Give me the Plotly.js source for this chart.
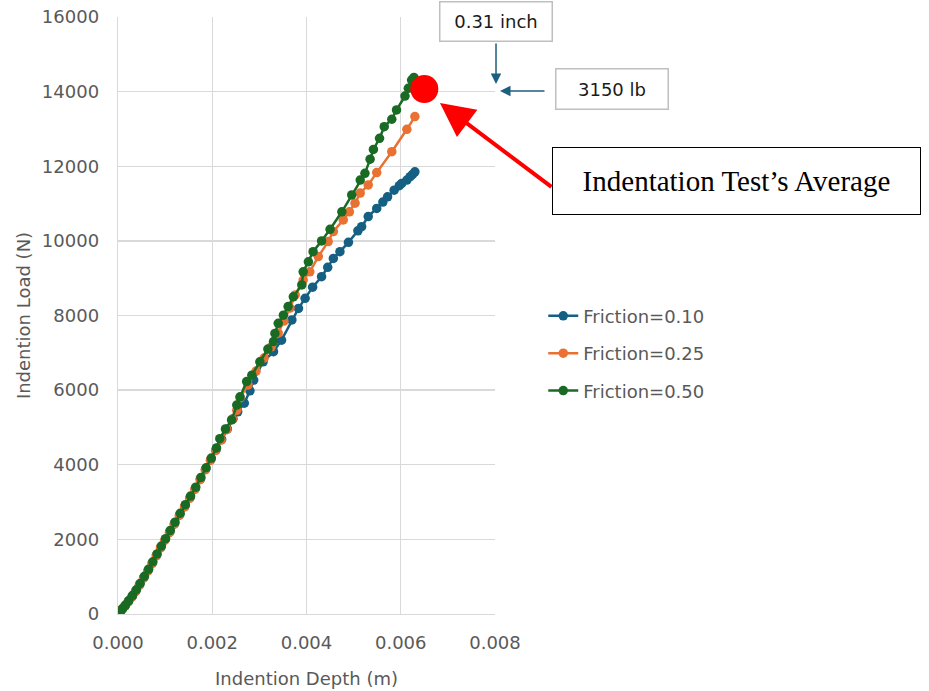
<!DOCTYPE html>
<html>
<head>
<meta charset="utf-8">
<script src="https://cdn.plot.ly/plotly-3.0.1.min.js"></script>
<style>html,body{margin:0;padding:0;background:#fff;}#chart{width:929px;height:691px;}</style>
</head>
<body>
<div id="chart"></div>
<script>
// Friction = 0.10
const blueDepth = [0.00000,0.00004,0.00009,0.00015,0.00022,0.00030,0.00038,0.00046,0.00055,0.00064,0.00073,0.00082,0.00091,0.00100,0.00110,0.00120,0.00131,0.00142,0.00153,0.00164,0.00175,0.00186,0.00197,0.00208,0.00220,0.00232,0.00244,0.00254,0.00268,0.00280,0.00288,0.00308,0.00330,0.00347,0.00369,0.00383,0.00397,0.00413,0.00432,0.00445,0.00457,0.00471,0.00489,0.00509,0.00517,0.00531,0.00549,0.00562,0.00572,0.00586,0.00597,0.00602,0.00613,0.00620,0.00625,0.00630];
const blueLoad  = [0,50,130,220,330,470,620,790,980,1170,1370,1580,1790,1990,2200,2420,2660,2890,3120,3360,3620,3880,4140,4400,4680,4960,5230,5420,5650,5980,6270,6760,7030,7340,7880,8190,8460,8760,9040,9290,9530,9710,9960,10270,10380,10650,10870,11040,11180,11360,11480,11540,11630,11720,11780,11850];
// Friction = 0.25
const orangeDepth = [0.00000,0.00003,0.00008,0.00014,0.00021,0.00029,0.00037,0.00045,0.00054,0.00063,0.00072,0.00081,0.00090,0.00099,0.00109,0.00119,0.00130,0.00141,0.00152,0.00163,0.00174,0.00185,0.00196,0.00207,0.00219,0.00231,0.00243,0.00252,0.00259,0.00276,0.00293,0.00310,0.00325,0.00340,0.00352,0.00365,0.00376,0.00393,0.00407,0.00425,0.00446,0.00457,0.00478,0.00491,0.00503,0.00514,0.00531,0.00549,0.00581,0.00613,0.00630];
const orangeLoad  = [0,40,110,210,320,450,600,770,960,1150,1350,1560,1770,1970,2180,2400,2640,2870,3100,3340,3600,3860,4120,4380,4660,4940,5220,5460,5790,6140,6510,6860,7160,7530,7850,8200,8550,8950,9170,9580,9980,10250,10560,10780,11010,11280,11500,11830,12390,12990,13330];
// Friction = 0.50
const greenDepth = [0.00000,0.00005,0.00010,0.00016,0.00023,0.00031,0.00039,0.00047,0.00056,0.00065,0.00074,0.00083,0.00092,0.00101,0.00111,0.00121,0.00132,0.00143,0.00154,0.00165,0.00176,0.00187,0.00198,0.00209,0.00216,0.00228,0.00241,0.00252,0.00259,0.00273,0.00284,0.00301,0.00318,0.00330,0.00333,0.00340,0.00351,0.00361,0.00372,0.00390,0.00393,0.00404,0.00414,0.00432,0.00450,0.00475,0.00496,0.00514,0.00524,0.00535,0.00542,0.00555,0.00565,0.00581,0.00591,0.00609,0.00616,0.00623,0.00628];
const greenLoad  = [0,70,150,240,360,500,650,820,1010,1200,1400,1610,1820,2020,2240,2460,2700,2930,3160,3400,3660,3920,4180,4450,4700,4960,5200,5600,5820,6230,6400,6760,7100,7300,7520,7790,8010,8240,8500,8820,9170,9440,9710,10000,10310,10780,11230,11630,11810,12190,12450,12750,13060,13260,13510,13880,14090,14310,14380];
// Indentation test average
const avgDepth = [0.0065];
const avgLoad = [14070];

const seriesNames = ['Friction=0.10','Friction=0.25','Friction=0.50'];
const seriesColors = ['#156082','#E97132','#196B24'];
const xTicks = [0,0.002,0.004,0.006,0.008];
const xTickText = ['0.000','0.002','0.004','0.006','0.008'];
const yTicks = [0,2000,4000,6000,8000,10000,12000,14000,16000];
const yTickText = ['0','2000','4000','6000','8000','10000','12000','14000','16000'];

const FONT = 'DejaVu Sans, Liberation Sans, sans-serif';
const GREY = '#595959';

const data = [[blueDepth,blueLoad],[orangeDepth,orangeLoad],[greenDepth,greenLoad]].map((s,i)=>({
  x: s[0], y: s[1], type:'scatter', mode:'lines+markers', name: seriesNames[i],
  legendgroup: 'g'+i,
  line:{color:seriesColors[i], width:2.5},
  marker:{color:seriesColors[i], size:9.5}
}));
data.push({x:avgDepth, y:avgLoad, type:'scatter', mode:'markers', showlegend:false,
  marker:{color:'#FF0000', size:28}, hoverinfo:'skip'});

const layout = {
  width:929, height:691,
  margin:{l:118, r:434, t:17, b:77},
  paper_bgcolor:'#ffffff', plot_bgcolor:'#ffffff',
  font:{family:FONT, color:GREY, size:18},
  showlegend:true,
  legend:{x:1.128, y:0.530, xanchor:'left', yanchor:'top', tracegroupgap:11,
          traceorder:'grouped', font:{family:FONT, size:18, color:GREY}, bgcolor:'rgba(0,0,0,0)'},
  xaxis:{range:[0,0.008], tickvals:xTicks, ticktext:xTickText, showgrid:true, gridcolor:'#d9d9d9', gridwidth:1.3,
         zeroline:false, showline:true, linecolor:'#d9d9d9', linewidth:1.3,
         ticks:'outside', ticklen:12, tickcolor:'rgba(0,0,0,0)',
         tickfont:{family:FONT, size:18, color:GREY},
         title:{text:'Indention Depth (m)', font:{family:FONT, size:18, color:GREY}, standoff:20}},
  yaxis:{range:[0,16000], tickvals:yTicks, ticktext:yTickText, showgrid:true, gridcolor:'#d9d9d9', gridwidth:1.3,
         zeroline:false, showline:true, linecolor:'#d9d9d9', linewidth:1.3,
         ticks:'outside', ticklen:14, tickcolor:'rgba(0,0,0,0)',
         tickfont:{family:FONT, size:18, color:GREY},
         title:{text:'Indention Load (N)', font:{family:FONT, size:18, color:GREY}, standoff:6}},
  annotations:[
    {xref:'paper', yref:'paper', x:1.0027, y:0.993, xanchor:'center', yanchor:'middle', text:'0.31 inch', showarrow:false,
     font:{family:FONT, size:18, color:'#1a1a1a'}, bordercolor:'#bfbfbf', borderwidth:1.5, borderpad:7,
     bgcolor:'#ffffff', width:97, height:24},
    {xref:'paper', yref:'paper', x:1.3103, y:0.880, xanchor:'center', yanchor:'middle', text:'3150 lb', showarrow:false,
     font:{family:FONT, size:18, color:'#1a1a1a'}, bordercolor:'#bfbfbf', borderwidth:1.5, borderpad:7,
     bgcolor:'#ffffff', width:97, height:25},
    {xref:'paper', yref:'paper', x:1.6406, y:0.725, xanchor:'center', yanchor:'middle', text:'Indentation Test\u2019s Average', showarrow:false,
     font:{family:'Liberation Serif, Times New Roman, serif', size:29, color:'#000000'},
     bordercolor:'#000000', borderwidth:1, borderpad:6, bgcolor:'#ffffff', width:355, height:54},
    {xref:'paper', yref:'paper', x:1.0027, y:0.8878, text:'', showarrow:true, axref:'pixel', ayref:'pixel',
     ax:0, ay:-42, arrowhead:2, arrowsize:1.4, arrowwidth:1.5, arrowcolor:'#1d5f80'},
    {xref:'paper', yref:'paper', x:1.0133, y:0.876, text:'', showarrow:true, axref:'pixel', ayref:'pixel',
     ax:46, ay:0, arrowhead:2, arrowsize:1.4, arrowwidth:1.5, arrowcolor:'#1d5f80'},
    {xref:'paper', yref:'paper', x:0.854, y:0.856, text:'', showarrow:true, axref:'pixel', ayref:'pixel',
     ax:113, ay:85, arrowhead:2, arrowsize:1.7, arrowwidth:4, arrowcolor:'#FF0000'}
  ]
};

Plotly.newPlot('chart', data, layout, {displayModeBar:false, staticPlot:true});
</script>
</body>
</html>
